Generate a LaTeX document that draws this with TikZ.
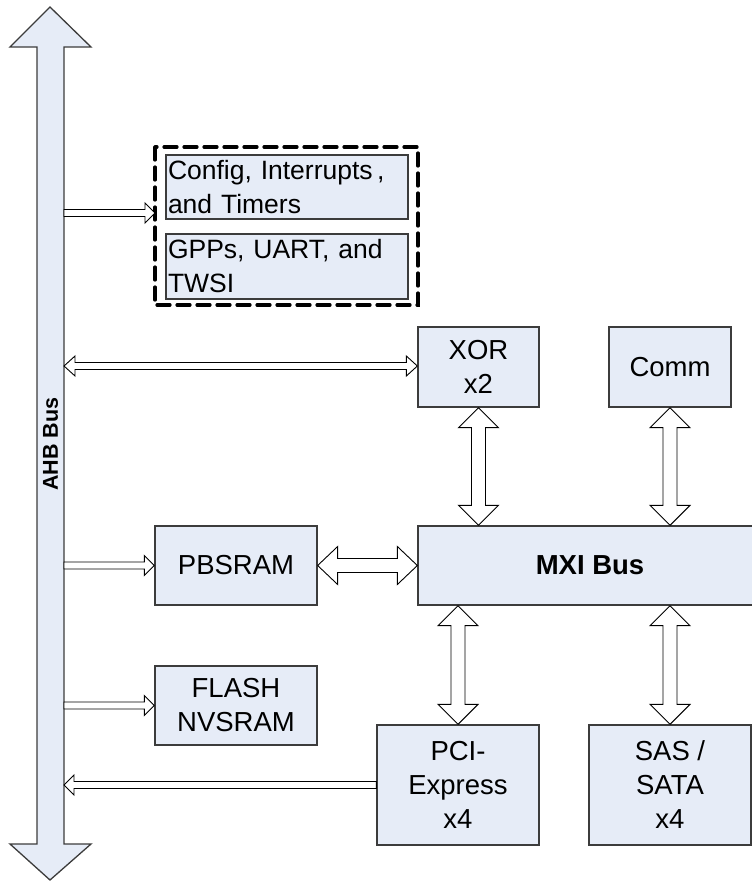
\documentclass[tikz,border=0pt]{standalone}
\usepackage{fontspec}
\setmainfont{Liberation Sans}
\usetikzlibrary{calc}
\definecolor{boxfill}{HTML}{E6ECF7}
\definecolor{boxline}{HTML}{3C3C3C}
\tikzset{
  blk/.style={draw=boxline, line width=1.3pt, fill=boxfill, inner sep=0pt, align=center,
    font=\fontsize{27.5}{34}\selectfont},
  txtblk/.style={blk, align=left, text width=238pt, inner sep=2pt, font=\fontsize{26.5}{34}\selectfont},
  hollow/.style={draw=black, line width=0.9pt, fill=white, line join=miter},
  busshape/.style={draw=boxline, line width=1.3pt, fill=boxfill, line join=miter},
  grp/.style={draw=black, line width=3.2pt, dash pattern=on 13pt off 7pt, line cap=round}
}
% horizontal double arrow #1 left, #2 right; #3 shaft half, #4 head half, #5 head length
\newcommand\dblH[5]{\draw[hollow] let \p1=(#1),\p2=(#2) in
  (\x1,\y1) -- ({\x1+#5},{\y1+#4}) -- ({\x1+#5},{\y1+#3}) -- ({\x2-#5},{\y1+#3}) -- ({\x2-#5},{\y1+#4})
  -- (\x2,\y1) -- ({\x2-#5},{\y1-#4}) -- ({\x2-#5},{\y1-#3}) -- ({\x1+#5},{\y1-#3}) -- ({\x1+#5},{\y1-#4}) -- cycle;}
% horizontal single arrow from #1 to tip #2; #5 signed head length
\newcommand\sglH[5]{\draw[hollow] let \p1=(#1),\p2=(#2) in
  (\x1,{\y1+#3}) -- ({\x2-(#5)},{\y1+#3}) -- ({\x2-(#5)},{\y1+#4}) -- (\x2,\y1)
  -- ({\x2-(#5)},{\y1-#4}) -- ({\x2-(#5)},{\y1-#3}) -- (\x1,{\y1-#3}) -- cycle;}
% vertical double arrow #1 top, #2 bottom
\newcommand\dblV[5]{\draw[hollow] let \p1=(#1),\p2=(#2) in
  (\x1,\y1) -- ({\x1+#4},{\y1-#5}) -- ({\x1+#3},{\y1-#5}) -- ({\x1+#3},{\y2+#5}) -- ({\x1+#4},{\y2+#5})
  -- (\x1,\y2) -- ({\x1-#4},{\y2+#5}) -- ({\x1-#3},{\y2+#5}) -- ({\x1-#3},{\y1-#5}) -- ({\x1-#4},{\y1-#5}) -- cycle;}
\begin{document}
\begin{tikzpicture}[x=1pt,y=1pt]
\useasboundingbox (0,0) rectangle (752,-881);
\begin{scope}
\clip (0,0) rectangle (752,-881);
% AHB bus
\draw[busshape] (50,-7) -- (91,-47) -- (64,-47) -- (64,-844) -- (91,-844) -- (50,-880)
  -- (10,-844) -- (37,-844) -- (37,-47) -- (10,-47) -- cycle;
\node[rotate=90, font=\bfseries\fontsize{21.5}{24}\selectfont] (bus) at (50.5,-444) {AHB Bus};
\coordinate (busR) at (64,-444);
% group
\node[txtblk, minimum width=242pt, minimum height=64pt] (config) at (287,-187)
  {Config, Interrupts\,,\\and Timers};
\node[txtblk, minimum width=242pt, minimum height=65pt] (gpps) at (287,-266.5)
  {GPPs, UART, and\\TWSI};
\draw[grp] (155,-147) rectangle (418,-305);
\coordinate (grpW) at (155,-213);
% blocks
\node[blk, minimum width=121pt, minimum height=80pt] (xor) at (478.5,-367) {XOR\\x2};
\node[blk, minimum width=122pt, minimum height=80pt] (comm) at (670,-367) {Comm};
\node[blk, minimum width=344pt, minimum height=79pt, font=\bfseries\fontsize{27.5}{34}\selectfont] (mxi) at (590,-565.5) {MXI Bus};
\node[blk, minimum width=162pt, minimum height=79pt] (pbsram) at (236,-565.5) {PBSRAM};
\node[blk, minimum width=162pt, minimum height=79pt] (flash) at (236,-705.5) {FLASH\\NVSRAM};
\node[blk, minimum width=162pt, minimum height=120pt] (pci) at (458,-785) {PCI-\\Express\\x4};
\node[blk, minimum width=162pt, minimum height=120pt] (sas) at (670,-785) {SAS /\\SATA\\x4};
% thin arrows from/to bus
\coordinate (a1) at (busR |- grpW);
\sglH{a1}{grpW}{3.5pt}{10pt}{10pt}
\coordinate (a2) at ($(busR |- xor.west)+(0,1)$);
\coordinate (a2e) at ($(xor.west)+(0,1)$);
\dblH{a2}{a2e}{3.5pt}{10pt}{11pt}
\coordinate (a3) at (busR |- pbsram.west);
\sglH{a3}{pbsram.west}{3.5pt}{10pt}{10pt}
\coordinate (a4) at (busR |- flash.west);
\sglH{a4}{flash.west}{3.5pt}{10pt}{10pt}
\coordinate (a5) at (pci.west);
\coordinate (a5e) at (busR |- pci.west);
\sglH{a5}{a5e}{3.5pt}{10pt}{-10pt}
% fat arrows
\dblH{pbsram.east}{pbsram.east -| mxi.west}{7pt}{19pt}{20pt}
\dblV{xor.south}{xor.south |- mxi.north}{7pt}{20pt}{20pt}
\dblV{comm.south}{comm.south |- mxi.north}{7pt}{20pt}{20pt}
\dblV{mxi.south -| pci.north}{pci.north}{7pt}{20pt}{20pt}
\dblV{mxi.south -| sas.north}{sas.north}{7pt}{20pt}{20pt}
\end{scope}
\end{tikzpicture}
\end{document}
